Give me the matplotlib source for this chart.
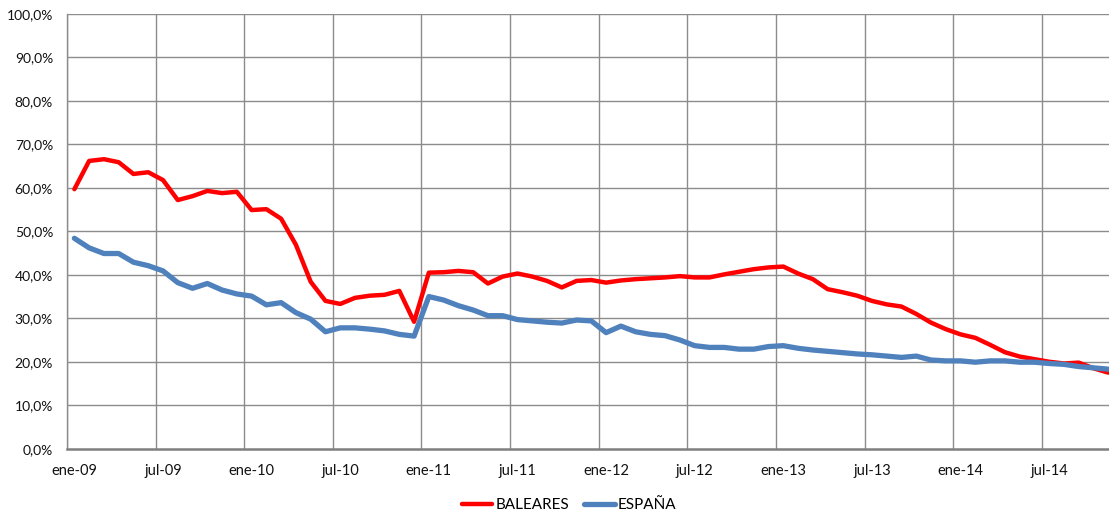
import matplotlib.pyplot as plt
import numpy as np
from matplotlib.ticker import FuncFormatter

plt.rcParams['font.family'] = ['Lato', 'DejaVu Sans']

# Monthly values, ene-09 .. nov-14 (%)
baleares = [59.7, 66.2, 66.6, 65.9, 63.2, 63.6, 61.8, 57.2, 58.1, 59.3, 58.8, 59.1,
            54.9, 55.1, 52.9, 46.9, 38.4, 34.0, 33.3, 34.7, 35.2, 35.4, 36.3, 29.2,
            40.5, 40.6, 40.9, 40.6, 38.0, 39.6, 40.3, 39.6, 38.6, 37.1, 38.6, 38.8,
            38.2, 38.7, 39.0, 39.2, 39.4, 39.7, 39.4, 39.4, 40.1, 40.7, 41.3, 41.7,
            41.9, 40.3, 39.0, 36.7, 36.0, 35.2, 34.0, 33.2, 32.7, 31.0, 29.0, 27.5,
            26.3, 25.5, 23.9, 22.2, 21.2, 20.6, 20.0, 19.6, 19.8, 18.5, 17.5]
espana = [48.4, 46.2, 44.9, 44.9, 42.9, 42.1, 40.9, 38.2, 36.9, 38.0, 36.5, 35.6,
          35.1, 33.1, 33.6, 31.3, 29.8, 26.9, 27.8, 27.8, 27.5, 27.1, 26.3, 25.9,
          35.0, 34.2, 32.9, 31.9, 30.6, 30.6, 29.7, 29.4, 29.1, 28.9, 29.6, 29.4,
          26.7, 28.2, 26.9, 26.3, 26.0, 25.0, 23.7, 23.3, 23.3, 22.9, 22.9, 23.5,
          23.7, 23.1, 22.7, 22.4, 22.1, 21.8, 21.6, 21.3, 21.0, 21.3, 20.4, 20.2,
          20.2, 19.9, 20.2, 20.2, 19.9, 19.9, 19.6, 19.4, 18.9, 18.6, 18.3]
tick_labels = ['ene-09', 'jul-09', 'ene-10', 'jul-10', 'ene-11', 'jul-11',
               'ene-12', 'jul-12', 'ene-13', 'jul-13', 'ene-14', 'jul-14']

x = np.arange(len(baleares))
grid_col = '#8c8c8c'

fig = plt.figure(figsize=(11.09, 5.19), dpi=100)
ax = fig.add_axes([67 / 1109, 1 - 448.7 / 519, 1 - 67 / 1109, (448.7 - 14) / 519])

ax.plot(x, baleares, color='#ff0000', linewidth=3.2, label='BALEARES',
        solid_joinstyle='round', solid_capstyle='round', zorder=3)
ax.plot(x, espana, color='#4f81bd', linewidth=3.8, label='ESPAÑA',
        solid_joinstyle='round', solid_capstyle='round', zorder=3)

ax.set_xlim(-0.5, 70.05)
ax.set_ylim(0, 100)

# gridlines on category boundaries, labels at category centres
for b in np.arange(-0.5, 71, 6):
    ax.axvline(b, color=grid_col, linewidth=1.0, zorder=1)
for v in range(10, 101, 10):
    ax.axhline(v, color=grid_col, linewidth=1.0, zorder=1)

ax.set_xticks(np.arange(0, 72, 6))
ax.set_xticklabels(tick_labels)
ax.set_yticks(range(0, 101, 10))
ax.yaxis.set_major_formatter(FuncFormatter(lambda v, p: f'{v:.1f}%'.replace('.', ',')))
ax.tick_params(axis='both', length=0, labelsize=10, colors='#111111')
ax.tick_params(axis='y', pad=10)
ax.tick_params(axis='x', pad=11, labelsize=10.5)

for s in ['top', 'right']:
    ax.spines[s].set_visible(False)
ax.spines['left'].set_color(grid_col)
ax.spines['left'].set_linewidth(1.0)
ax.spines['bottom'].set_color('#7f7f7f')
ax.spines['bottom'].set_linewidth(1.8)

ax.legend(loc='center', bbox_to_anchor=(0.482, -0.13), ncol=2, frameon=False,
          fontsize=11, handlelength=2.0, handletextpad=0.2, columnspacing=1.0)

fig.savefig('out.png', dpi=100)
